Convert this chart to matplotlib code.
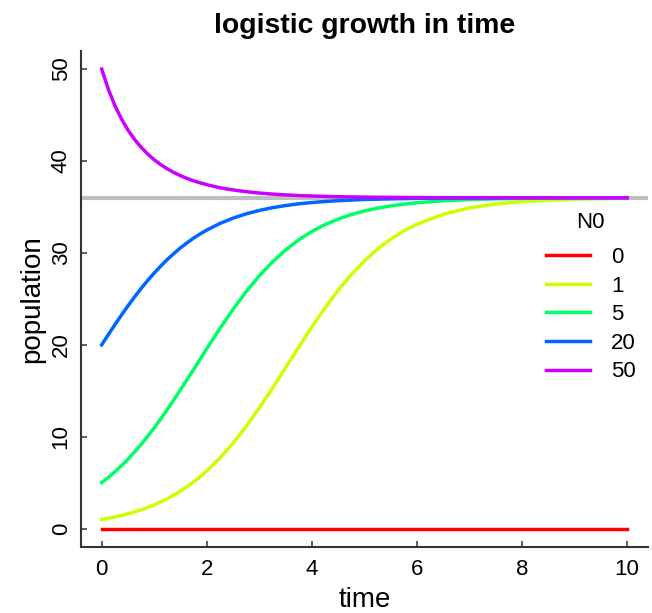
import matplotlib
matplotlib.use('Agg')
import matplotlib.pyplot as plt

plt.rcParams['font.family'] = ['Liberation Sans', 'DejaVu Sans']

# values (population at each time)
time = [0, 0.125, 0.25, 0.375, 0.5, 0.625, 0.75, 0.875, 1, 1.125, 1.25, 1.375,
        1.5, 1.625, 1.75, 1.875, 2, 2.25, 2.5, 2.75, 3, 3.25, 3.5, 3.75, 4,
        4.25, 4.5, 4.75, 5, 5.25, 5.5, 5.75, 6, 6.5, 7, 7.5, 8, 9, 10]
pop_0 = [0.0] * 39
pop_1 = [1.0, 1.13, 1.27, 1.44, 1.62, 1.82, 2.05, 2.31, 2.59, 2.91, 3.26, 3.66,
         4.09, 4.56, 5.08, 5.65, 6.28, 7.68, 9.29, 11.12, 13.12, 15.27, 17.50,
         19.75, 21.94, 23.99, 25.93, 27.63, 29.13, 30.41, 31.49, 32.39, 33.12,
         34.20, 34.89, 35.32, 35.58, 35.85, 35.94]
pop_5 = [5.0, 5.56, 6.18, 6.84, 7.56, 8.34, 9.16, 10.04, 10.97, 11.95, 12.97,
         14.02, 15.11, 16.21, 17.33, 18.45, 19.58, 21.77, 23.86, 25.78, 27.51,
         29.02, 30.32, 31.42, 32.33, 33.07, 33.68, 34.17, 34.56, 34.87, 35.11,
         35.30, 35.45, 35.67, 35.80, 35.88, 35.93, 35.97, 35.99]
pop_20 = [20.0, 21.10, 22.18, 23.23, 24.24, 25.21, 26.13, 27.00, 27.81, 28.58,
          29.29, 29.94, 30.55, 31.10, 31.61, 32.07, 32.48, 33.20, 33.78, 34.25,
          34.62, 34.92, 35.15, 35.34, 35.48, 35.59, 35.68, 35.75, 35.81, 35.85,
          35.88, 35.91, 35.93, 35.96, 35.97, 35.98, 35.99, 36.0, 36.0]
pop_50 = [50.0, 47.82, 46.04, 44.58, 43.36, 42.35, 41.49, 40.76, 40.13, 39.60,
          39.14, 38.74, 38.40, 38.10, 37.84, 37.62, 37.42, 37.09, 36.85, 36.66,
          36.51, 36.40, 36.31, 36.24, 36.19, 36.15, 36.11, 36.09, 36.07, 36.05,
          36.04, 36.03, 36.02, 36.01, 36.01, 36.0, 36.0, 36.0, 36.0]
series = [pop_0, pop_1, pop_5, pop_20, pop_50]
labels = ['0', '1', '5', '20', '50']
colors = ['#FF0000', '#CCFF00', '#00FF66', '#0066FF', '#CC00FF']
capacity = 36

fig = plt.figure(figsize=(6.52, 6.13), dpi=100)
ax = fig.add_axes([80.7/652, 1-547/613, (648-80.7)/652, (547-50.7)/613])

ax.axhline(capacity, color='#BEBEBE', lw=3, zorder=1)
for y, lab, c in zip(series, labels, colors):
    ax.plot(time, y, color=c, lw=2.5, label=lab, zorder=2)

ax.set_xlim(-0.4, 10.4)
ax.set_ylim(-2, 52)
ax.set_xticks([0, 2, 4, 6, 8, 10])
ax.set_yticks([0, 10, 20, 30, 40, 50])

for s in ['top', 'right']:
    ax.spines[s].set_visible(False)
for s in ['left', 'bottom']:
    ax.spines[s].set_color('#333333')
    ax.spines[s].set_linewidth(1.5)

ax.tick_params(direction='in', length=4, width=1.1, color='#333333',
               labelsize=16, pad=8.5)
ax.tick_params(axis='y', pad=6.5)
for t in ax.get_yticklabels():
    t.set_rotation(90)
    t.set_va('center')

ax.set_xlabel('time', fontsize=20, labelpad=5.5)
ax.set_ylabel('population', fontsize=20, labelpad=4)
ax.set_title('logistic growth in time', fontsize=20.4, fontweight='bold', pad=13)

leg = ax.legend(title='N0', loc='upper left', bbox_to_anchor=(0.8197, 0.676),
                frameon=False, fontsize=16, title_fontsize=16, borderpad=0,
                handlelength=2.0, handletextpad=0.95, labelspacing=0.34,
                borderaxespad=0)
leg._legend_box.sep = 10.5  # extra room under the legend title

fig.savefig('out.png', dpi=100)
